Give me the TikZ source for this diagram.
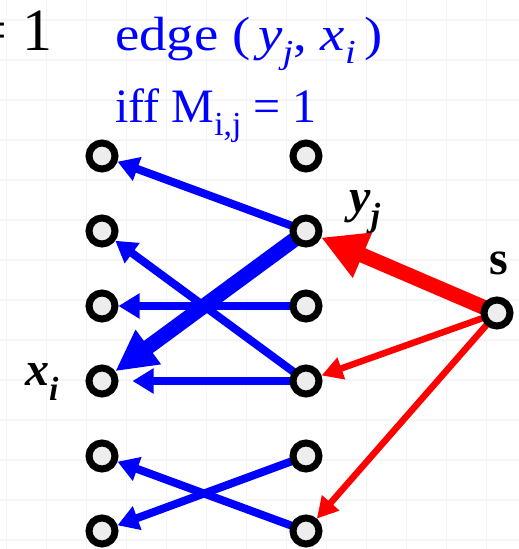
\documentclass[tikz,border=0pt]{standalone}
\usepackage{fontspec}
\setmainfont{Liberation Serif}
\newfontfamily\notefont[FakeStretch=1.14]{Liberation Serif}
\usepackage{tikz}
\usetikzlibrary{arrows.meta,positioning}
\usepackage{xcolor}

\pgfdeclarelayer{gridlayer}
\pgfdeclarelayer{edgelayer}
\pgfsetlayers{gridlayer,edgelayer,main}

\newcommand{\itsub}[2]{\textit{#1}\textsubscript{\textit{#2}}}

\begin{document}
\begin{tikzpicture}[
        x=1pt, y=-1pt,
    % vertices of the bipartite graph and the source
        vert/.style={circle, draw=black, line width=7pt, fill=black!7, minimum size=26pt, inner sep=0pt},
    % edges y_j -> x_i (blue) and s -> y_j (red)
        bluearrow/.style={draw=blue, line width=8pt, -{Triangle[length=21pt,width=24pt]}},
        bluebold/.style={draw=blue, line width=15pt, -{Triangle[length=41pt,width=40pt]}},
        redarrow/.style={draw=red, line width=6.5pt, -{Triangle[length=21pt,width=22pt]}},
        redbold/.style={draw=red, line width=15pt, -{Triangle[length=45pt,width=46pt]}},
        lbl/.style={inner sep=0pt, font=\fontsize{48}{52}\selectfont\bfseries},
        note/.style={inner sep=0pt, text=blue, font=\fontsize{48}{52}\selectfont},
        gridline/.style={draw=black!4, line width=1.5pt}
    ]
        \useasboundingbox (0,0) rectangle (519,549);

        % --- GRELHA DE FUNDO ---
        \begin{pgfonlayer}{gridlayer}
            \foreach \gx in {6.7,46.7,...,526.7}
                \draw[gridline] (\gx,0) -- (\gx,549);
            \foreach \gy in {20,60,...,540}
                \draw[gridline] (0,\gy) -- (519,\gy);
        \end{pgfonlayer}

        % --- TEXTO ---
        \node[inner sep=0pt, anchor=base east, font=\fontsize{60}{64}\selectfont] (eq) at (53,50) {= 1};
        \node[note, anchor=base west] (edge) at (115,50)
            {\notefont edge (\,\itsub{y}{j},\;\itsub{x}{i}\,)};
        \node[note, anchor=base west] (iff) at (115,122) {iff M\textsubscript{i,j} = 1};

        % --- COLUNA ESQUERDA (x) ---
        \node[vert] (x1) at (102,156) {};
        \node[vert, below=42pt of x1] (x2) {};
        \node[vert, below=42pt of x2] (x3) {};
        \node[vert, below=42pt of x3] (x4) {};
        \node[vert, below=42pt of x4] (x5) {};
        \node[vert, below=42pt of x5] (x6) {};

        % --- COLUNA DIREITA (y) ---
        \node[vert, right=171pt of x1] (y1) {};
        \node[vert, below=42pt of y1] (y2) {};
        \node[vert, below=42pt of y2] (y3) {};
        \node[vert, below=42pt of y3] (y4) {};
        \node[vert, below=42pt of y4] (y5) {};
        \node[vert, below=42pt of y5] (y6) {};

        % --- FONTE ---
        \node[vert] (s) at (497,313) {};

        % --- ROTULOS ---
        \node[lbl] (ylab) at (365,212) {\itsub{y}{j}};
        \node[lbl] (slab) at (499,263) {s};
        \node[lbl] (xlab) at (42,382) {\itsub{x}{i}};

        % --- LIGACOES ---
        \begin{pgfonlayer}{edgelayer}
            \draw[bluearrow] (y2.center) -- (x1);
            \draw[bluearrow] (y4.center) -- (x2);
            \draw[bluearrow] (y3.center) -- (x3);
            \draw[bluearrow, shorten >=14pt] (y4.center) -- (x4);
            \draw[bluebold] (y2.center) -- (x4);
            \draw[bluearrow] (y5.center) -- (x6);
            \draw[bluearrow] (y6.center) -- (x5);

            \draw[redbold] (s.center) -- (y2);
            \draw[redarrow] (s.center) -- (y4);
            \draw[redarrow] (s.center) -- (y6);
        \end{pgfonlayer}
    \end{tikzpicture}
\end{document}
